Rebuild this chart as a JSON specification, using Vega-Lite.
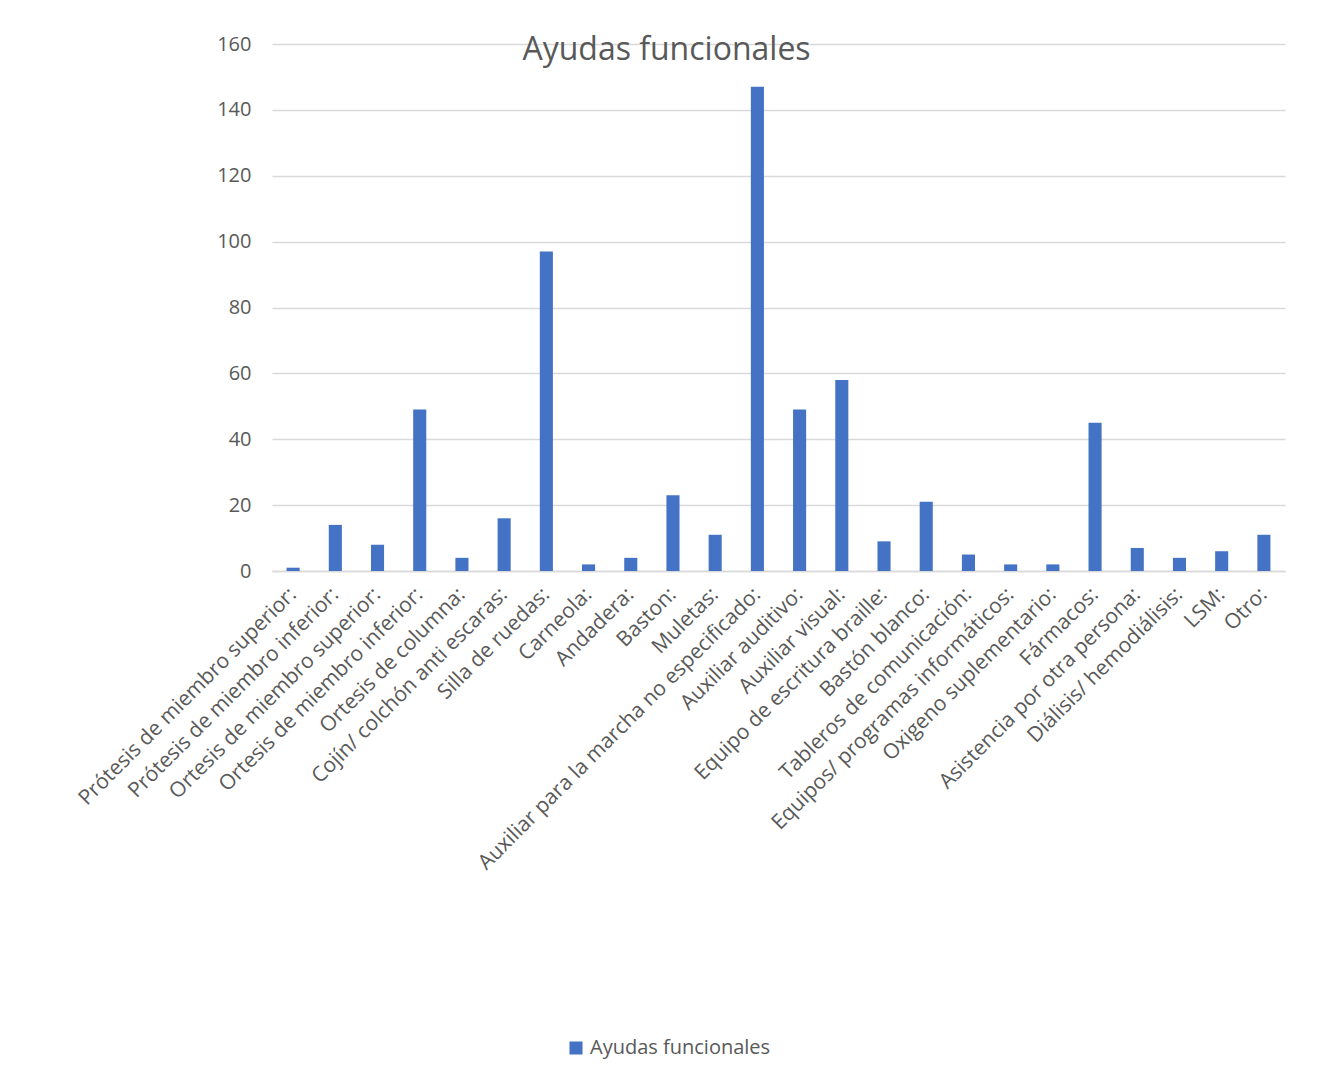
{
  "$schema": "https://vega.github.io/schema/vega-lite/v6.json",
  "autosize": {"type": "none"},
  "padding": {"left": 272, "top": 44, "right": 43, "bottom": 511},
  "width": 1013,
  "height": 527,
  "background": "white",
  "title": {
    "text": "Ayudas funcionales",
    "anchor": "middle",
    "frame": "group",
    "dx": -112,
    "dy": 58,
    "offset": 0,
    "baseline": "alphabetic",
    "font": "Open Sans",
    "fontSize": 32,
    "fontWeight": "normal",
    "color": "#595959"
  },
  "data": {
    "values": [
      {"ayuda": "Prótesis de miembro superior:", "valor": 1, "serie": "Ayudas funcionales"},
      {"ayuda": "Prótesis de miembro inferior:", "valor": 14, "serie": "Ayudas funcionales"},
      {"ayuda": "Ortesis de miembro superior:", "valor": 8, "serie": "Ayudas funcionales"},
      {"ayuda": "Ortesis de miembro inferior:", "valor": 49, "serie": "Ayudas funcionales"},
      {"ayuda": "Ortesis de columna:", "valor": 4, "serie": "Ayudas funcionales"},
      {"ayuda": "Cojín/ colchón anti escaras:", "valor": 16, "serie": "Ayudas funcionales"},
      {"ayuda": "Silla de ruedas:", "valor": 97, "serie": "Ayudas funcionales"},
      {"ayuda": "Carneola:", "valor": 2, "serie": "Ayudas funcionales"},
      {"ayuda": "Andadera:", "valor": 4, "serie": "Ayudas funcionales"},
      {"ayuda": "Baston:", "valor": 23, "serie": "Ayudas funcionales"},
      {"ayuda": "Muletas:", "valor": 11, "serie": "Ayudas funcionales"},
      {"ayuda": "Auxiliar para la marcha no especificado:", "valor": 147, "serie": "Ayudas funcionales"},
      {"ayuda": "Auxiliar auditivo:", "valor": 49, "serie": "Ayudas funcionales"},
      {"ayuda": "Auxiliar visual:", "valor": 58, "serie": "Ayudas funcionales"},
      {"ayuda": "Equipo de escritura braille:", "valor": 9, "serie": "Ayudas funcionales"},
      {"ayuda": "Bastón blanco:", "valor": 21, "serie": "Ayudas funcionales"},
      {"ayuda": "Tableros de comunicación:", "valor": 5, "serie": "Ayudas funcionales"},
      {"ayuda": "Equipos/ programas informáticos:", "valor": 2, "serie": "Ayudas funcionales"},
      {"ayuda": "Oxigeno suplementario:", "valor": 2, "serie": "Ayudas funcionales"},
      {"ayuda": "Fármacos:", "valor": 45, "serie": "Ayudas funcionales"},
      {"ayuda": "Asistencia por otra persona:", "valor": 7, "serie": "Ayudas funcionales"},
      {"ayuda": "Diálisis/ hemodiálisis:", "valor": 4, "serie": "Ayudas funcionales"},
      {"ayuda": "LSM:", "valor": 6, "serie": "Ayudas funcionales"},
      {"ayuda": "Otro:", "valor": 11, "serie": "Ayudas funcionales"}
    ]
  },
  "mark": {"type": "bar", "color": "#4472C4"},
  "encoding": {
    "x": {
      "field": "ayuda",
      "type": "nominal",
      "sort": null,
      "scale": {"paddingInner": 0.69, "paddingOuter": 0.345},
      "axis": {
        "title": null,
        "labelAngle": -45,
        "labelAlign": "right",
        "labelBaseline": "middle",
        "labelPadding": 20,
        "labelDx": -4,
        "labelFont": "Open Sans",
        "labelFontSize": 21,
        "labelColor": "#595959",
        "labelLimit": 800,
        "labelOverlap": false,
        "ticks": false,
        "domainColor": "#d9d9d9",
        "domainWidth": 1.5,
        "grid": false
      }
    },
    "y": {
      "field": "valor",
      "type": "quantitative",
      "scale": {"domain": [0, 160], "nice": false},
      "axis": {
        "title": null,
        "values": [0, 20, 40, 60, 80, 100, 120, 140, 160],
        "labelFont": "Open Sans",
        "labelFontSize": 20,
        "labelColor": "#595959",
        "labelPadding": 21,
        "ticks": false,
        "domain": false,
        "gridColor": "#d9d9d9",
        "gridWidth": 1.5
      }
    },
    "color": {
      "field": "serie",
      "type": "nominal",
      "scale": {"range": ["#4472C4"]},
      "legend": {
        "title": null,
        "orient": "none",
        "legendX": 294,
        "legendY": 994,
        "symbolType": "square",
        "symbolSize": 170,
        "symbolOpacity": 1,
        "labelFont": "Open Sans",
        "labelFontSize": 20,
        "labelLimit": 400,
        "labelColor": "#595959",
        "labelOffset": 4
      }
    }
  },
  "config": {"view": {"stroke": null}}
}
